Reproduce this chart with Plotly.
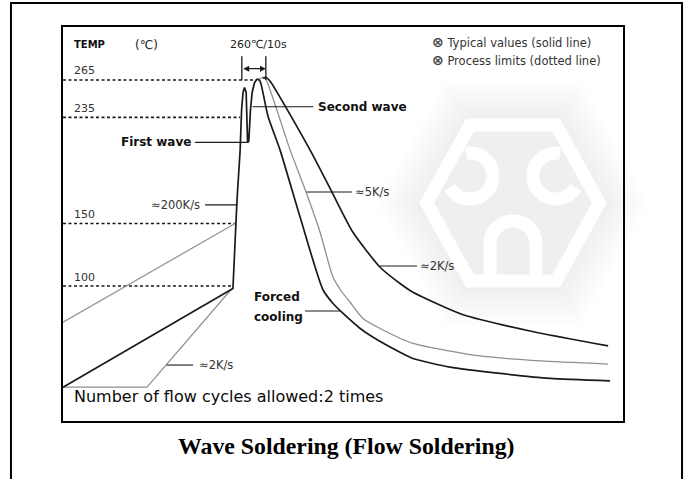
import numpy as np
import plotly.graph_objects as go

# ---------------- data : time (s) / temperature (degC) ----------------
heat_t = [0, 70.8, 72.5, 73.8, 74.4, 75.0, 75.6, 76.3, 76.9, 77.4, 78.1, 78.8, 79.8, 81.0]
heat_T = [19, 98, 169, 209, 241, 255, 259, 255, 215, 216, 241, 255, 263, 266]

forced_t = [81.0, 82.1, 85.4, 90.4, 98.8, 108.3, 112.5, 116.7, 123.8, 129.2, 140.4, 145.8, 161.3, 182.1, 202.9, 227.9]
forced_T = [266, 264, 236, 209, 155, 97, 86, 78, 66, 59, 47, 42, 35, 30, 26, 24]

k5_t = [81.3, 83.3, 84.6, 94.6, 101.3, 107.1, 112.5, 116.3, 119.6, 125.0, 132.1, 145.8, 173.8, 198.8, 227.1]
k5_T = [265, 267, 265, 209, 175, 143, 107, 95, 87, 74, 66, 54, 44, 40, 37.5]

k2_t = [83.3, 84.6, 86.3, 102.9, 112.1, 120.8, 132.1, 140.4, 145.8, 166.7, 194.6, 227.1]
k2_T = [266.5, 267, 264, 209, 175, 143, 115, 102, 95, 77, 64, 52]

pre_hi_t = [0, 71.7]
pre_hi_T = [71, 150]
pre_lo_t = [0, 35, 70.4]
pre_lo_T = [19, 19, 98]

ref_levels = [265, 235, 150, 100]
ref_end_t = [80.8, 73.8, 71.7, 70.8]

peak_t = [74.5, 84.5]        # 10 s window at 260 degC
peak_T_top = 284
peak_arrow_T = 274

BLACK = '#1a1a1a'
GRAY = '#8f8f8f'
FONT = 'DejaVu Sans'

fig = go.Figure()

# reference dashed lines
for lv, te in zip(ref_levels, ref_end_t):
    fig.add_trace(go.Scatter(x=[0, te], y=[lv, lv], mode='lines',
                             line=dict(color=BLACK, width=1.6, dash='3px,2.5px'),
                             hoverinfo='skip', showlegend=False))

# process-limit (gray) lines
fig.add_trace(go.Scatter(x=pre_hi_t, y=pre_hi_T, mode='lines', line=dict(color=GRAY, width=1.2), showlegend=False))
fig.add_trace(go.Scatter(x=pre_lo_t, y=pre_lo_T, mode='lines', line=dict(color=GRAY, width=1.2), showlegend=False))
fig.add_trace(go.Scatter(x=k5_t, y=k5_T, mode='lines', line=dict(color=GRAY, width=1.3, shape='spline', smoothing=0.6), showlegend=False))

# black lines
fig.add_trace(go.Scatter(x=heat_t, y=heat_T, mode='lines', line=dict(color=BLACK, width=1.7), showlegend=False))
fig.add_trace(go.Scatter(x=forced_t, y=forced_T, mode='lines', line=dict(color=BLACK, width=1.7, shape='spline', smoothing=0.6), showlegend=False))
fig.add_trace(go.Scatter(x=k2_t, y=k2_T, mode='lines', line=dict(color=BLACK, width=1.7, shape='spline', smoothing=0.6), showlegend=False))

# 260C / 10 s marker
for pt in peak_t:
    fig.add_trace(go.Scatter(x=[pt, pt], y=[265, peak_T_top], mode='lines', line=dict(color=BLACK, width=1.3), showlegend=False))

annotations = []
annotations.append(dict(x=peak_t[1], y=peak_arrow_T, ax=peak_t[0], ay=peak_arrow_T, xref='x', yref='y', axref='x', ayref='y',
                        text='', showarrow=True, arrowhead=2, arrowsize=0.9, arrowwidth=1.3, arrowcolor=BLACK, arrowside='end+start'))

def label(t, T, s, size=11, bold=False, xanchor='left', color='#2a2a2a', yshift=0):
    annotations.append(dict(x=t, y=T, xref='x', yref='y', text=('<b>%s</b>' % s) if bold else s,
                            showarrow=False, xanchor=xanchor, yanchor='middle', yshift=yshift,
                            font=dict(family=FONT, size=size, color=color)))

# y level labels
for lv in ref_levels:
    label(3.75, lv, str(lv), size=11, color='#333', yshift=9)

label(3.75, 293, 'TEMP', size=10, bold=True, color='#111')
label(29, 293, '(℃)', size=12, color='#222')
label(81.5, 293, '260℃/10s', size=11, xanchor='center', color='#222')

icon = '<span style="font-size:14px;color:#444"><b>⊗</b></span> '
label(152.9, 295.5, icon + 'Typical values (solid line)', size=11.5, color='#333')
label(152.9, 281, icon + 'Process limits (dotted line)', size=11.5, color='#333')

# pointer labels: (text, text_t, text_T, xanchor, bold, line t0, line t1)
pointers = [
    ('First wave', 54.2, 215, 'right', True, 55.0, 77.2),
    ('Second wave', 105.5, 243.5, 'left', True, 79.0, 104.3),
    ('≈200K/s', 57.9, 165, 'right', False, 59.2, 72.6),
    ('≈5K/s', 120.8, 175.3, 'left', False, 101.5, 120.4),
    ('≈2K/s', 148.0, 116, 'left', False, 132.0, 147.5),
    ('≈2K/s', 55.8, 36.7, 'left', False, 43.2, 54.2),
]
for s, tt, TT, xa, b, l0, l1 in pointers:
    label(tt, TT, s, size=12 if b else 11.5, bold=b, xanchor=xa, color='#111' if b else '#333')
    fig.add_trace(go.Scatter(x=[l0, l1], y=[TT, TT], mode='lines', line=dict(color=BLACK, width=1.1), showlegend=False))

label(78.75, 91, 'Forced', size=12, bold=True, color='#111')
label(78.75, 75, 'cooling', size=12, bold=True, color='#111')
fig.add_trace(go.Scatter(x=[100.8, 115.5], y=[80, 80], mode='lines', line=dict(color=BLACK, width=1.1), showlegend=False))

label(3.75, 11.5, 'Number of flow cycles allowed:2 times', size=16, color='#0a0a0a')

# title below the chart
annotations.append(dict(x=0.505, y=-0.064, xref='paper', yref='paper', text='<b>Wave Soldering (Flow Soldering)</b>',
                        showarrow=False, xanchor='center', yanchor='middle',
                        font=dict(family='Liberation Serif', size=23.8, color='#000')))

# ---------------- decorative watermark + frame (pixel geometry -> paper) ----------------
X0, Y0, W, H = 63, 27, 560, 394

def P(px, py):
    return (px - X0) / W, (Y0 + H - py) / H

def path(points, close=True):
    parts = []
    for i, (px, py) in enumerate(points):
        x, y = P(px, py)
        parts.append(('M' if i == 0 else 'L') + '%.4f,%.4f' % (x, y))
    return ''.join(parts) + ('Z' if close else '')

def hexagon(cx, cy, r, h):
    return [(cx - r, cy), (cx - r / 2, cy - h), (cx + r / 2, cy - h), (cx + r, cy), (cx + r / 2, cy + h), (cx - r / 2, cy + h)]

shapes = []
cx, cy, r, h = 513, 203, 94, 85
for k in range(16):
    d = 38 - k * 2.5
    shapes.append(dict(type='path', xref='paper', yref='paper', layer='below',
                       path=path(hexagon(cx, cy, r + d * 1.15, h + d)),
                       fillcolor='rgba(110,110,110,0.009)', line=dict(width=0)))
sc = (h - 7) / h
shapes.append(dict(type='path', xref='paper', yref='paper', layer='below',
                   path=path(hexagon(cx, cy, r * sc, h * sc)), line=dict(color='white', width=13)))

def arc(ccx, ccy, R, a0, a1, n=40):
    th = np.radians(np.linspace(a0, a1, n))
    return list(zip(ccx + R * np.cos(th), ccy + R * np.sin(th)))

shapes.append(dict(type='path', xref='paper', yref='paper', layer='below',
                   path=path(arc(470, 176, 23, -100, 150), close=False), line=dict(color='white', width=13)))
shapes.append(dict(type='path', xref='paper', yref='paper', layer='below',
                   path=path(arc(556, 176, 23, 30, 280), close=False), line=dict(color='white', width=13)))
bottom = [(536, 284)] + arc(513, 244, 23, 0, -180) + [(490, 284)]
shapes.append(dict(type='path', xref='paper', yref='paper', layer='below',
                   path=path(bottom, close=False), line=dict(color='white', width=13)))

# outer frame (left, top, right)
fl, ft = P(11, 3)
fr, fb = P(682, 485)
shapes.append(dict(type='path', xref='paper', yref='paper', layer='above',
                   path='M%.4f,%.4fL%.4f,%.4fL%.4f,%.4fL%.4f,%.4f' % (fl, fb, fl, ft, fr, ft, fr, fb),
                   line=dict(color='black', width=2)))

fig.update_layout(
    width=686, height=479,
    margin=dict(l=63, r=63, t=27, b=58),
    paper_bgcolor='white', plot_bgcolor='white',
    showlegend=False,
    annotations=annotations,
    shapes=shapes,
    xaxis=dict(range=[0, 233.3], showgrid=False, zeroline=False, showticklabels=False, ticks='',
               showline=True, linecolor='black', linewidth=2, mirror=True, fixedrange=True),
    yaxis=dict(range=[-8.1, 307.4], showgrid=False, zeroline=False, showticklabels=False, ticks='',
               showline=True, linecolor='black', linewidth=2, mirror=True, fixedrange=True),
)

fig.write_html('out.html', config={'displayModeBar': False},
               post_script="document.body.style.margin='0';document.body.style.overflow='hidden';")
